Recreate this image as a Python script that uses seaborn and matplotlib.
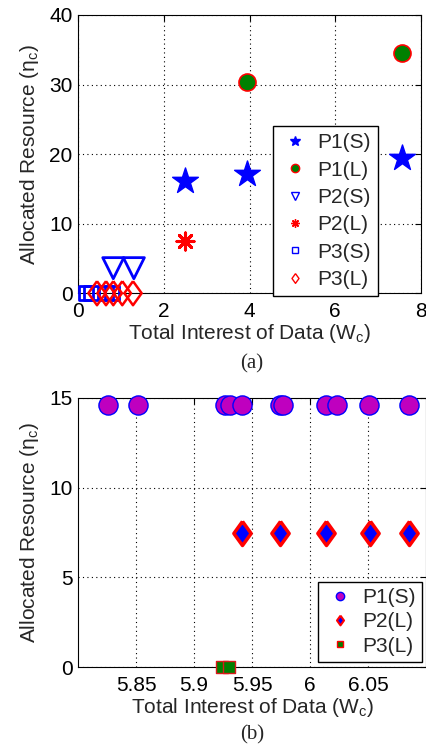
import numpy as np
import pandas as pd
import seaborn as sns
import matplotlib.pyplot as plt
from matplotlib.lines import Line2D

# ---- panel (a) data ----
p1s_x = [2.5, 3.95, 7.55]
p1s_y = [16.1, 17.2, 19.5]
p1l_x = [3.95, 7.55]
p1l_y = [30.4, 34.5]
p2s_x = [0.82, 1.3]
p2s_y = [3.6, 3.6]
p2l_x = [2.5]
p2l_y = [7.5]
p3s_x = [0.18, 0.3, 0.65, 0.8]
p3s_y = [0, 0, 0, 0]
p3l_x = [0.44, 0.65, 0.82, 1.03, 1.28]
p3l_y = [0, 0, 0, 0, 0]

# ---- panel (b) data ----
b_p1s_x = [5.826, 5.852, 5.927, 5.931, 5.941, 5.974, 5.977, 6.014, 6.023, 6.051, 6.085]
b_p1s_y = [14.6] * 11
b_p2l_x = [5.941, 5.974, 6.014, 6.052, 6.085]
b_p2l_y = [7.5] * 5
b_p3l_x = [5.924, 5.930]
b_p3l_y = [0, 0]

sns.set_style("white")
plt.rcParams['font.family'] = ['Liberation Sans', 'DejaVu Sans']
plt.rcParams['mathtext.fontset'] = 'custom'
plt.rcParams['mathtext.rm'] = 'Liberation Sans'

BLUE = (0, 0, 1)
RED = (1, 0, 0)
GREEN = (0, 0.5, 0)
MAG = (0.75, 0, 0.75)
diamond = [(0, 1), (0.72, 0), (0, -1), (-0.72, 0), (0, 1)]
FS = 15

fig = plt.figure(figsize=(4.27, 7.48), dpi=100)
ax1 = fig.add_axes([0.183, 0.608, 0.803, 0.372])
ax2 = fig.add_axes([0.183, 0.108, 0.815, 0.360])


def sc(ax, x, y, **kw):
    sns.scatterplot(x=x, y=y, ax=ax, legend=False, **kw)


sc(ax1, p1s_x, p1s_y, marker='*', s=380, color=BLUE, edgecolor=BLUE, linewidth=1, zorder=3)
sc(ax1, p1l_x, p1l_y, marker='o', s=150, color=GREEN, edgecolor=RED, linewidth=1.2, zorder=3)
sc(ax1, p2s_x, p2s_y, marker='v', s=230, facecolor='none', edgecolor=BLUE, linewidth=2, zorder=3)
sc(ax1, p2l_x, p2l_y, marker=(8, 2, 0), s=150, color=RED, edgecolor=RED, linewidth=2.2, zorder=3)
sc(ax1, p3s_x, p3s_y, marker='s', s=100, facecolor='none', edgecolor=BLUE, linewidth=2, zorder=3, clip_on=False)
sc(ax1, p3l_x, p3l_y, marker=diamond, s=300, facecolor='none', edgecolor=RED, linewidth=1.8, zorder=4, clip_on=False)

sc(ax2, b_p1s_x, b_p1s_y, marker='o', s=190, color=MAG, edgecolor=BLUE, linewidth=1, zorder=3, clip_on=False)
sc(ax2, b_p2l_x, b_p2l_y, marker=diamond, s=300, color=BLUE, edgecolor=RED, linewidth=2.5, zorder=3)
sc(ax2, b_p3l_x, b_p3l_y, marker='s', s=75, color=GREEN, edgecolor=(0.85, 0.1, 0.1), linewidth=1, zorder=4, clip_on=False)

ax1.set_xlim(0, 8)
ax1.set_ylim(0, 40)
ax1.set_xticks([0, 2, 4, 6, 8])
ax1.set_yticks([0, 10, 20, 30, 40])
ax2.set_xlim(5.8, 6.1)
ax2.set_ylim(0, 15)
ax2.set_xticks([5.85, 5.9, 5.95, 6.0, 6.05])
ax2.set_xticklabels(['5.85', '5.9', '5.95', '6', '6.05'])
ax2.set_yticks([0, 5, 10, 15])

for ax in (ax1, ax2):
    ax.grid(True, linestyle=(0, (1, 3)), color='black', linewidth=0.8)
    ax.set_axisbelow(True)
    ax.tick_params(direction='in', length=4, width=0.8, top=True, right=True,
                   labelsize=FS, colors='black')
    ax.tick_params(axis='x', pad=6)
    ax.tick_params(axis='y', pad=4)
    for sp in ax.spines.values():
        sp.set_color('black')
        sp.set_linewidth(0.8)
    ax.set_xlabel('Total Interest of Data (W$_\\mathregular{c}$)', fontsize=FS, labelpad=1)
    ax.set_ylabel('Allocated Resource (η$_\\mathregular{c}$)', fontsize=FS, labelpad=6)

h1 = [
    Line2D([], [], ls='none', marker='*', ms=7, color=BLUE, mec=BLUE),
    Line2D([], [], ls='none', marker='o', ms=6, color=GREEN, mec=RED),
    Line2D([], [], ls='none', marker='v', ms=6, mfc='none', mec=BLUE, mew=1),
    Line2D([], [], ls='none', marker=(8, 2, 0), ms=6, color=RED, mew=1),
    Line2D([], [], ls='none', marker='s', ms=5, mfc='none', mec=BLUE, mew=1),
    Line2D([], [], ls='none', marker=diamond, ms=7, mfc='none', mec=RED, mew=1),
]
ax1.legend(h1, ['P1(S)', 'P1(L)', 'P2(S)', 'P2(L)', 'P3(S)', 'P3(L)'],
           loc='lower right', bbox_to_anchor=(0.875, -0.011), borderaxespad=0,
           fontsize=FS, frameon=True, fancybox=False, edgecolor='black', framealpha=1,
           labelspacing=0.4, handletextpad=0.3, borderpad=0.35, handlelength=1.5)

h2 = [
    Line2D([], [], ls='none', marker='o', ms=6, color=MAG, mec=BLUE),
    Line2D([], [], ls='none', marker=diamond, ms=7, color=BLUE, mec=RED, mew=1.5),
    Line2D([], [], ls='none', marker='s', ms=5, color=GREEN, mec=RED, mew=1),
]
ax2.legend(h2, ['P1(S)', 'P2(L)', 'P3(L)'],
           loc='lower right', bbox_to_anchor=(0.988, 0.02), borderaxespad=0,
           fontsize=FS, frameon=True, fancybox=False, edgecolor='black', framealpha=1,
           labelspacing=0.25, handletextpad=0.3, borderpad=0.3, handlelength=1.5)

fig.text(0.59, 0.513, '(a)', ha='center', va='center', fontsize=FS, family='Liberation Serif')
fig.text(0.59, 0.017, '(b)', ha='center', va='center', fontsize=FS, family='Liberation Serif')

fig.savefig('out.png', dpi=100)
